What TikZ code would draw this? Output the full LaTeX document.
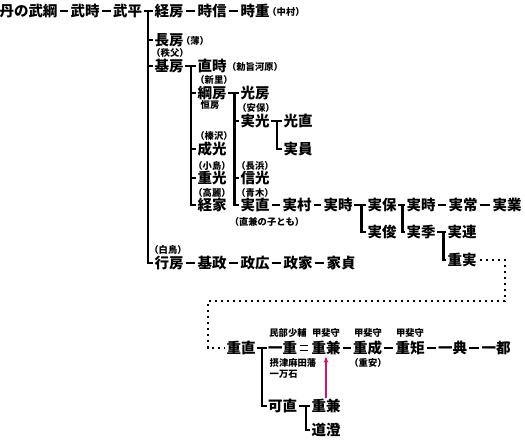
\documentclass[tikz,border=0pt]{standalone}
\usepackage{fontspec}
\newfontfamily\jp{Noto Sans CJK JP}
\usetikzlibrary{arrows.meta}
\definecolor{pk}{RGB}{205,20,110}
\begin{document}
\begin{tikzpicture}[x=1pt,y=-1pt,
  nm/.style={font=\jp\bfseries\fontsize{14.5}{14.5}\selectfont, inner sep=0pt, text height=11.6pt, text depth=1.45pt, anchor=center},
  sm/.style={font=\jp\bfseries\fontsize{9.3}{9.3}\selectfont, inner sep=0pt, text height=7.4pt, text depth=0.9pt, anchor=center},
  smw/.style={sm, anchor=west},
  ln/.style={line width=2.5pt},
  dl/.style={line width=2.5pt, shorten <=2pt, shorten >=2pt},
  dotln/.style={line width=2.5pt, dash pattern=on 2.6pt off 3.4pt},
  eqln/.style={line width=1.3pt},
  arr/.style={draw=pk, line width=1.3pt, -{Stealth[length=6pt,width=4.5pt]}, shorten <=1pt, shorten >=2pt}
]
\useasboundingbox (0,0) rectangle (525,443);
% ---- top lineage
\node[nm] (a1) at (28.5,11) {丹の武綱};
\node[nm] (a2) at (85,11) {武時};
\node[nm] (a3) at (127.5,11) {武平};
\node[nm] (b1) at (169,11) {経房};
\node[nm] (b2) at (212,11) {時信};
\node[nm] (b3) at (255,11) {時重};
\node[sm] (l1) at (286,12) {（中村）};
\node[nm] (c1) at (169,40) {長房};
\node[sm] (l2) at (195,41) {（薄）};
\node[sm] (l3) at (170,53) {（秩父）};
\node[nm] (d1) at (169,66) {基房};
\node[nm] (d2) at (212,66) {直時};
\node[sm] (l4) at (255,67) {（勅旨河原）};
\node[sm] (l5) at (214,80) {（新里）};
\node[nm] (e1) at (212,93) {綱房};
\node[sm] (l6) at (210,105) {恒房};
\node[nm] (e2) at (255,93) {光房};
\node[sm] (l7) at (256,108) {（安保）};
\node[nm] (f1) at (255,121) {実光};
\node[nm] (f2) at (298,121) {光直};
\node[nm] (f3) at (298,149) {実員};
\node[sm] (l8) at (214,136) {（榛沢）};
\node[nm] (g1) at (212,149) {成光};
\node[sm] (l9) at (212,166) {（小島）};
\node[sm] (l10) at (255,166) {（長浜）};
\node[nm] (h1) at (212,178) {重光};
\node[nm] (h2) at (255,178) {信光};
\node[sm] (l11) at (212,193) {（高麗）};
\node[sm] (l12) at (255,193) {（青木）};
\node[nm] (i1) at (212,205) {経家};
\node[nm] (i2) at (255,205) {実直};
\node[nm] (i3) at (297,205) {実村};
\node[nm] (i4) at (338,205) {実時};
\node[sm] (l13) at (267,222) {（直兼の子とも）};
\node[nm] (i5) at (382,205) {実保};
\node[nm] (i6) at (421,205) {実時};
\node[nm] (i7) at (463,205) {実常};
\node[nm] (i8) at (507,205) {実業};
\node[nm] (j1) at (382,232) {実俊};
\node[nm] (j2) at (421,232) {実季};
\node[nm] (j3) at (462,232) {実連};
\node[nm] (k1) at (462,260) {重実};
\node[sm] (l14) at (168,250) {（白鳥）};
\node[nm] (m1) at (169,263) {行房};
\node[nm] (m2) at (212,263) {基政};
\node[nm] (m3) at (255,263) {政広};
\node[nm] (m4) at (298,263) {政家};
\node[nm] (m5) at (341,263) {家貞};
% ---- bottom lineage
\node[nm] (n1) at (241,348) {重直};
\node[nm] (n2) at (282.5,348) {一重};
\node[nm] (n3) at (326,348) {重兼};
\node[nm] (n4) at (367.5,348) {重成};
\node[nm] (n5) at (410,348) {重矩};
\node[nm] (n6) at (452.5,348) {一典};
\node[nm] (n7) at (496,348) {一都};
\node[sm] (s1) at (288,333) {民部少輔};
\node[sm] (s2) at (326,333) {甲斐守};
\node[sm] (s3) at (368,333) {甲斐守};
\node[sm] (s4) at (410,333) {甲斐守};
\node[smw] (s5) at (269.5,363) {摂津麻田藩};
\node[smw] (s6) at (269.5,374) {一万石};
\node[sm] (s7) at (368,363) {（重安）};
\node[nm] (o1) at (282.5,406) {可直};
\node[nm] (o2) at (326,406) {重兼};
\node[nm] (o3) at (326,430) {道澄};
% ---- straight successions
\draw[dl] (a1) -- (a2);
\draw[dl] (a2) -- (a3);
\draw[dl] (b1) -- (b2);
\draw[dl] (b2) -- (b3);
\draw[dl] (i2) -- (i3);
\draw[dl] (i3) -- (i4);
\draw[dl] (i6) -- (i7);
\draw[dl] (i7) -- (i8);
\draw[dl] (m1) -- (m2);
\draw[dl] (m2) -- (m3);
\draw[dl] (m3) -- (m4);
\draw[dl] (m4) -- (m5);
\draw[dl] (n3) -- (n4);
\draw[dl] (n4) -- (n5);
\draw[dl] (n5) -- (n6);
\draw[dl] (n6) -- (n7);
% ---- branching trees
\coordinate (t1) at (148,11);
\draw[ln] ([xshift=1.5pt]a3.east) -- ([xshift=-1pt]b1.west);
\draw[ln] (t1) |- ([xshift=-1pt]c1.west);
\draw[ln] (t1) |- ([xshift=-1pt]d1.west);
\draw[ln] (t1) |- ([xshift=-1pt]m1.west);
\coordinate (t2) at (191,66);
\draw[ln] ([xshift=1.5pt]d1.east) -- ([xshift=-1pt]d2.west);
\draw[ln] (t2) |- ([xshift=-1pt]e1.west);
\draw[ln] (t2) |- ([xshift=-1pt]g1.west);
\draw[ln] (t2) |- ([xshift=-1pt]h1.west);
\draw[ln] (t2) |- ([xshift=-1pt]i1.west);
\coordinate (t3) at (234.5,93);
\draw[ln] ([xshift=1.5pt]e1.east) -- ([xshift=-1pt]e2.west);
\draw[ln] (t3) |- ([xshift=-1pt]f1.west);
\draw[ln] (t3) |- ([xshift=-1pt]h2.west);
\draw[ln] (t3) |- ([xshift=-1pt]i2.west);
\coordinate (t4) at (277,121);
\draw[ln] ([xshift=1.5pt]f1.east) -- ([xshift=-1pt]f2.west);
\draw[ln] (t4) |- ([xshift=-1pt]f3.west);
\coordinate (t5) at (361.5,205);
\draw[ln] ([xshift=1.5pt]i4.east) -- ([xshift=-1pt]i5.west);
\draw[ln] (t5) |- ([xshift=-1pt]j1.west);
\coordinate (t6) at (402.5,205);
\draw[ln] ([xshift=1.5pt]i5.east) -- ([xshift=-1pt]i6.west);
\draw[ln] (t6) |- ([xshift=-1pt]j2.west);
\coordinate (t7) at (443.5,232);
\draw[ln] ([xshift=1.5pt]j2.east) -- ([xshift=-1pt]j3.west);
\draw[ln] (t7) |- ([xshift=-1pt]k1.west);
\coordinate (t8) at (262,348);
\draw[ln] ([xshift=1.5pt]n1.east) -- ([xshift=-1pt]n2.west);
\draw[ln] (t8) |- ([xshift=-1pt]o1.west);
\coordinate (t9) at (306,406);
\draw[ln] ([xshift=1.5pt]o1.east) -- ([xshift=-1pt]o2.west);
\draw[ln] (t9) |- ([xshift=-1pt]o3.west);
% ---- adoption (double line)
\draw[eqln] ([xshift=2.5pt,yshift=2.3pt]n2.east) -- ([xshift=-3pt,yshift=2.3pt]n3.west);
\draw[eqln] ([xshift=2.5pt,yshift=-2.3pt]n2.east) -- ([xshift=-3pt,yshift=-2.3pt]n3.west);
% ---- dotted continuation
\coordinate (q1) at (505,301);
\coordinate (q2) at (208,348);
\draw[dotln] ([xshift=3pt]k1.east) -| (q1) -| (q2) -- ([xshift=-2pt]n1.west);
% ---- pink arrow
\draw[arr] (o2.north) -- (n3.south);
\end{tikzpicture}
\end{document}
